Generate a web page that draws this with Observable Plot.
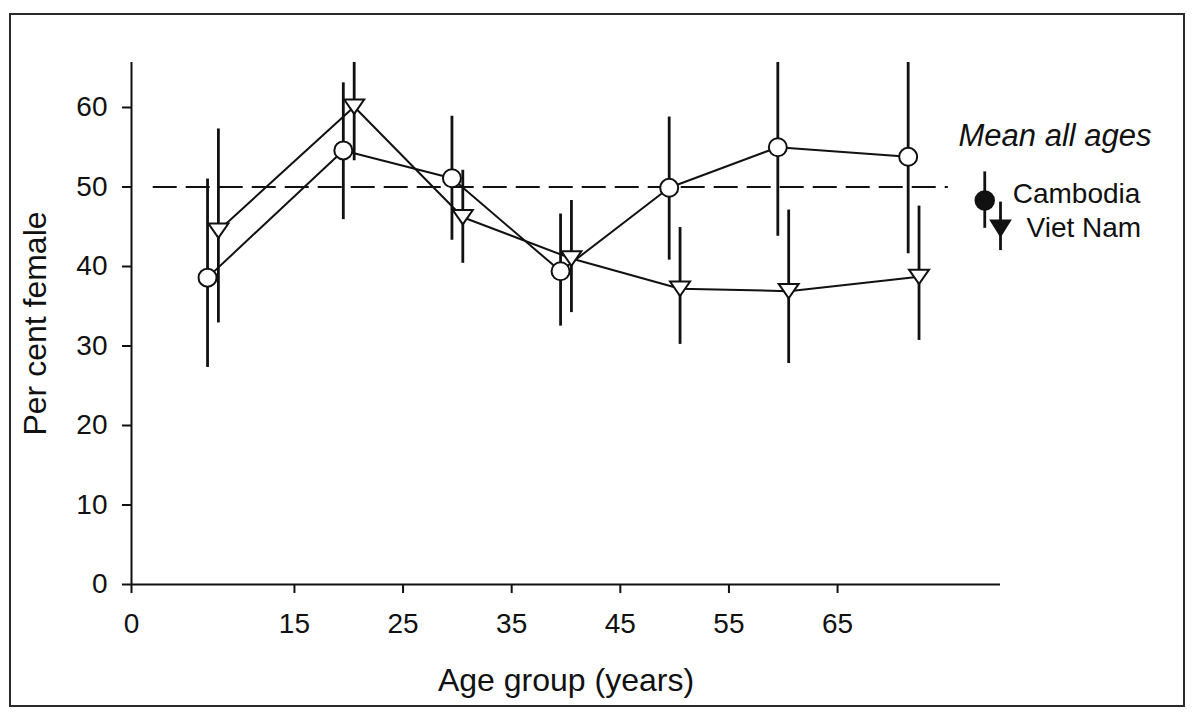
<!DOCTYPE html>
<html><head><meta charset="utf-8">
<script src="https://cdn.jsdelivr.net/npm/d3@7"></script>
<script src="https://cdn.jsdelivr.net/npm/@observablehq/plot@0.6"></script>
<style>
body{margin:0;background:#fff;}
#wrap{position:relative;width:1200px;height:723px;overflow:hidden;}
#border{position:absolute;left:9px;top:13px;width:1172px;height:690px;border:2.5px solid #2a2a2a;pointer-events:none;}
</style></head><body>
<div id="wrap"><div id="chart"></div><div id="border"></div></div>
<script>
// Age positions (years) of plotted group means
const ageCambodia = [7.0, 19.5, 29.5, 39.5, 49.5, 59.5, 71.5];
const ageVietNam  = [8.0, 20.5, 30.5, 40.5, 50.5, 60.5, 72.5];
// Per cent female and error bar ends
const meanCambodia = [38.6, 54.6, 51.1, 39.4, 49.9, 55.0, 53.8];
const lowCambodia  = [27.3, 45.9, 43.3, 32.5, 40.8, 43.8, 41.6];
const highCambodia = [51.0, 63.1, 58.9, 46.6, 58.8, 66.2, 65.9];
const meanVietNam  = [44.5, 60.1, 46.2, 41.0, 37.2, 36.9, 38.7];
const lowVietNam   = [32.9, 53.3, 40.4, 34.2, 30.2, 27.8, 30.7];
const highVietNam  = [57.3, 66.9, 52.1, 48.3, 44.9, 47.1, 47.6];
// Mean all ages
const allAgesCountry = ["Cambodia", "Viet Nam"];
const allAgesX    = [78.55, 80.0];
const allAgesMean = [48.3, 44.8];
const allAgesLow  = [44.8, 42.0];
const allAgesHigh = [51.9, 48.1];
// Reference line
const refLine = [{y: 50, x1: 2, x2: 75.2}];
// Tick labels
const xTicks = [0, 15, 25, 35, 45, 55, 65];
const yTicks = [0, 10, 20, 30, 40, 50, 60];

const cambodia = ageCambodia.map((a, i) => ({age: a, mean: meanCambodia[i], low: lowCambodia[i], high: highCambodia[i]}));
const vietnam = ageVietNam.map((a, i) => ({age: a, mean: meanVietNam[i], low: lowVietNam[i], high: highVietNam[i]}));
const allAges = allAgesCountry.map((c, i) => ({country: c, x: allAgesX[i], mean: allAgesMean[i], low: allAgesLow[i], high: allAgesHigh[i]}));

const triDown = {draw(ctx, size) {
  const r = Math.sqrt(size / Math.PI);
  ctx.moveTo(-r, -0.72 * r); ctx.lineTo(r, -0.72 * r); ctx.lineTo(0, 0.72 * r); ctx.closePath();
}};
const triDownBig = {draw(ctx, size) {
  const r = Math.sqrt(size / Math.PI);
  ctx.moveTo(-r, -0.8 * r); ctx.lineTo(r, -0.8 * r); ctx.lineTo(0, 0.8 * r); ctx.closePath();
}};

const ink = "#111";
const chart = Plot.plot({
  width: 1200, height: 723,
  marginLeft: 131, marginRight: 200, marginTop: 62, marginBottom: 139,
  x: {domain: [0, 80]},
  y: {domain: [0, 65.66]},
  style: {fontFamily: "'Liberation Sans', Arial, sans-serif", color: ink, background: "white", overflow: "visible"},
  marks: [
    Plot.ruleY(refLine, {y: "y", x1: "x1", x2: "x2", stroke: ink, strokeWidth: 2, strokeDasharray: "24,9"}),
    Plot.line(cambodia, {x: "age", y: "mean", stroke: ink, strokeWidth: 2}),
    Plot.line(vietnam, {x: "age", y: "mean", stroke: ink, strokeWidth: 2}),
    Plot.ruleX(cambodia, {x: "age", y1: "low", y2: "high", stroke: ink, strokeWidth: 2.8, clip: true}),
    Plot.ruleX(vietnam, {x: "age", y1: "low", y2: "high", stroke: ink, strokeWidth: 2.8, clip: true}),
    Plot.dot(cambodia, {x: "age", y: "mean", r: 9, fill: "white", stroke: ink, strokeWidth: 2}),
    Plot.dot(vietnam, {x: "age", y: "mean", r: 10, symbol: triDown, fill: "white", stroke: ink, strokeWidth: 2}),
    // Mean all ages
    Plot.ruleX(allAges, {x: "x", y1: "low", y2: "high", stroke: ink, strokeWidth: 2.8}),
    Plot.dot(allAges.slice(0, 1), {x: "x", y: "mean", r: 9.5, fill: ink, stroke: ink}),
    Plot.dot(allAges.slice(1), {x: "x", y: "mean", r: 10, symbol: triDownBig, fill: ink, stroke: ink}),
    Plot.text(allAges.slice(0, 1), {x: "x", y: "mean", text: "country", textAnchor: "start", lineAnchor: "bottom", dx: 28, dy: 2, fontSize: 28, fill: ink}),
    Plot.text(allAges.slice(1), {x: "x", y: "mean", text: "country", textAnchor: "start", lineAnchor: "bottom", dx: 26, dy: 9, fontSize: 28, fill: ink}),
    Plot.text(["Mean all ages"], {text: d => d, frameAnchor: "top-right", textAnchor: "start", lineAnchor: "bottom", dx: -42, dy: 83, fontSize: 31, fontStyle: "italic", fill: ink}),
    // Axes
    Plot.ruleX([0], {stroke: ink, strokeWidth: 2}),
    Plot.ruleY([0], {stroke: ink, strokeWidth: 2}),
    Plot.axisY({ticks: yTicks, tickSize: 9, tickPadding: 15, fontSize: 28, label: null, strokeWidth: 2}),
    Plot.axisX({ticks: xTicks, tickSize: 9, tickPadding: 20, fontSize: 28, label: null, strokeWidth: 2}),
    Plot.text(["Age group (years)"], {text: d => d, frameAnchor: "bottom", lineAnchor: "bottom", dy: 106, fontSize: 32, fill: ink}),
    Plot.text(["Per cent female"], {text: d => d, frameAnchor: "left", textAnchor: "middle", rotate: -90, lineAnchor: "bottom", dx: -86, fontSize: 32, fill: ink})
  ]
});
document.getElementById("chart").appendChild(chart);
</script>
</body></html>
